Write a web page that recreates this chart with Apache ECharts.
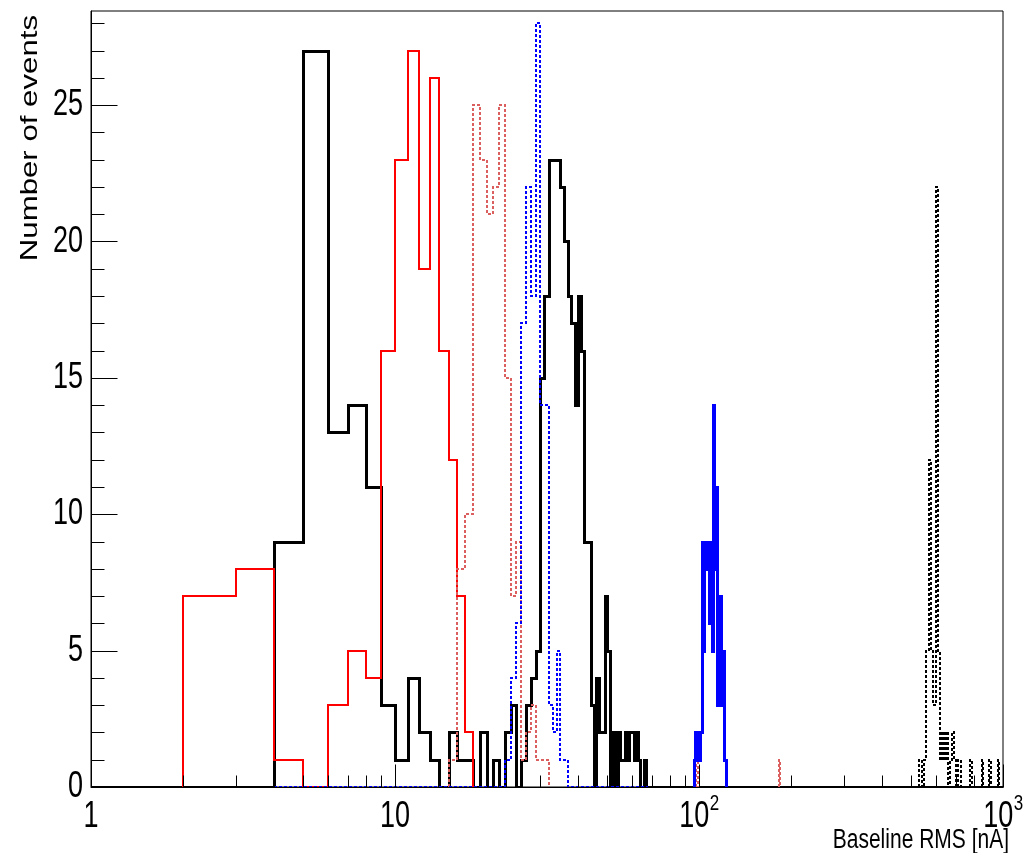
<!DOCTYPE html>
<html><head><meta charset="utf-8">
<script src="https://cdn.jsdelivr.net/npm/echarts@6/dist/echarts.min.js"></script>
<style>html,body{margin:0;padding:0;background:#fff}#c{width:1026px;height:853px}</style>
</head><body><div id="c"></div>
<script>
// ---- histogram data: bin low edges and counts (bin width given separately) ----
const blackWidth = 1;
const blackEdges = [4,5,6,7,8,9,10,11,12,13,14,15,16,17,18,19,20,21,22,23,24,25,26,27,28,29,30,31,32,33,34,35,36,37,38,39,40,41,42,43,44,45,46,47,48,49,50,51,52,53,54,55,56,57,58,59,60,61,62,63,64,65,66];
const blackCounts = [9,27,13,14,11,3,1,4,2,1,0,2,1,1,0,2,0,1,0,2,3,0,1,3,4,5,15,18,23,23,23,22,20,18,17,14,18,16,9,9,3,0,4,2,2,7,5,0,2,0,2,1,1,2,1,2,2,1,2,1,0,0,1];
const blackBaseline = [1, 1000];

const redWidth = 1;
const redEdges = [2,3,4,5,6,7,8,9,10,11,12,13,14,15,16,17];
const redCounts = [7,8,1,0,3,5,4,16,23,27,19,26,16,12,7,2];

const redDotWidth = 1;
const redDotEdges = [15,16,17,18,19,20,21,22,23,24,25,26,27,28,29,30,31,98,183];
const redDotCounts = [1,8,10,25,23,21,22,25,15,7,9,1,2,3,1,1,1,1,1];

const blueDotWidth = 1;
const blueDotEdges = [23,24,25,26,27,28,29,30,31,32,33,34,35,36];
const blueDotCounts = [1,4,6,17,22,18,28,14,14,3,2,5,1,1];
const blueDotBaseline = [4, 68];

const blueWidth = 1;
const blueEdges = [96,97,98,99,100,101,102,103,104,105,106,107,108,109,110,111,112,113,114,115,116,117,118,119,120,121,122];
const blueCounts = [1,2,1,2,1,2,9,5,9,9,8,9,6,9,5,14,11,8,11,3,7,7,5,3,5,1,1];

const blackDashWidth = 10;
const blackDashEdges = [530,540,550,560,570,580,590,600,610,620,630,640,650,660,670,680,690,700,710,720,780,850,900,960];
const blackDashCounts = [1,0,1,5,12,5,3,22,5,1,2,1,2,0,1,2,1,0,1,1,1,1,1,1];

// ---- axes ----
const xMajorTicks = [1, 10, 100, 1000];
const xMinorTicks = [2,3,4,5,6,7,8,9,20,30,40,50,60,70,80,90,200,300,400,500,600,700,800,900];
const xLabelBase = ['1', '10', '10', '10'];
const xLabelSup = ['', '', '2', '3'];
const yMajorTicks = [0, 5, 10, 15, 20, 25];
const yMinorTicks = [1,2,3,4,6,7,8,9,11,12,13,14,16,17,18,19,21,22,23,24,26,27,28];
const yLabels = ['0', '5', '10', '15', '20', '25'];
const xTitle = 'Baseline RMS [nA]';
const yTitle = 'Number of events';

const FONT = '"Liberation Sans", Arial, Helvetica, sans-serif';
const STRETCH = 1.35;
const LABEL_SIZE = 27;

// Histogram outline drawn as pixel-snapped polylines through the axis scales
function histSeries(edges, counts, width, baseline, color, lw, dash, z) {
  const data = edges.map((lo, i) => [lo, lo + width, counts[i]]);
  return {
    type: 'custom', coordinateSystem: 'cartesian2d', silent: true, animation: false, z: z, clip: true,
    data: data,
    renderItem: function (params, api) {
      if (params.dataIndexInside !== 0) return null;
      const n = params.dataInsideLength;
      const off = (lw % 2) ? 0.5 : 0;
      const P = (x, y) => { const p = api.coord([x, y]); return [Math.round(p[0]) + off, Math.round(p[1]) + off]; };
      const lines = [];
      let pts = null, prevHi = null;
      for (let k = 0; k < n; k++) {
        const lo = api.value(0, k), hi = api.value(1, k), c = api.value(2, k);
        if (pts === null || Math.abs(lo - prevHi) > 1e-9) {
          if (pts) { pts.push(P(prevHi, 0)); if (!baseline) { lines.push(pts); pts = null; } }
          if (!pts) { pts = []; if (baseline) pts.push(P(baseline[0], 0)); }
          pts.push(P(lo, 0));
        }
        pts.push(P(lo, c)); pts.push(P(hi, c));
        prevHi = hi;
      }
      pts.push(P(prevHi, 0));
      if (baseline) pts.push(P(baseline[1], 0));
      lines.push(pts);
      return {
        type: 'group',
        children: lines.map(p => ({
          type: 'polyline', shape: { points: p },
          style: { stroke: color, lineWidth: lw, lineDash: dash, fill: null, lineJoin: 'miter', lineCap: 'butt' }
        }))
      };
    }
  };
}

function tickSeries(values, axis, len) {
  return {
    type: 'custom', coordinateSystem: 'cartesian2d', silent: true, animation: false, z: 20,
    data: values.map(v => axis === 'x' ? [v, 0] : [1, v]),
    renderItem: function (params, api) {
      const p = api.coord([api.value(0), api.value(1)]);
      const x = Math.round(p[0]) + 0.5, y = Math.round(p[1]) + 0.5;
      const shape = axis === 'x' ? { x1: x, y1: y, x2: x, y2: y - len } : { x1: x - 0.5, y1: y, x2: x + len, y2: y };
      return { type: 'line', shape: shape, style: { stroke: '#000', lineWidth: 1 } };
    }
  };
}

function textEl(x, y, text, size, align, valign, sx, sy, rot) {
  return {
    type: 'text', x: x, y: y, scaleX: sx || 1, scaleY: sy || 1, rotation: rot || 0,
    style: { text: text, fontSize: size, fontFamily: FONT, fill: '#000', textFill: '#000',
      align: align, textAlign: align, verticalAlign: valign, textVerticalAlign: valign }
  };
}

const xLabelSeries = {
  type: 'custom', coordinateSystem: 'cartesian2d', silent: true, animation: false, z: 20,
  data: xMajorTicks.map(v => [v, 0]),
  renderItem: function (params, api) {
    const i = params.dataIndex;
    const p = api.coord([api.value(0), 0]);
    const base = xLabelBase[i], sup = xLabelSup[i];
    const bw = base.length * 0.556 * LABEL_SIZE;
    const supSize = Math.round(LABEL_SIZE * 0.62);
    const sw = sup.length * 0.556 * supSize;
    const left = p[0] - (bw + sw) / 2;
    const y = p[1] + 30;
    const children = [textEl(left, y, base, LABEL_SIZE, 'left', 'middle', 1, STRETCH)];
    if (sup) children.push(textEl(left + bw + 0.5, y - 13, sup, supSize, 'left', 'middle', 1, STRETCH));
    return { type: 'group', children: children };
  }
};

const yLabelSeries = {
  type: 'custom', coordinateSystem: 'cartesian2d', silent: true, animation: false, z: 20,
  data: yMajorTicks.map(v => [1, v]),
  renderItem: function (params, api) {
    const i = params.dataIndex;
    const p = api.coord([1, api.value(1)]);
    return textEl(p[0] - 8, p[1], yLabels[i], LABEL_SIZE, 'right', 'middle', 1, STRETCH);
  }
};

const series = [
  histSeries(blackEdges, blackCounts, blackWidth, blackBaseline, '#000000', 3, null, 2),
  histSeries(redEdges, redCounts, redWidth, null, '#ff0000', 2, null, 3),
  histSeries(redDotEdges, redDotCounts, redDotWidth, null, '#dc5f5f', 2, [3, 2], 4),
  histSeries(blueDotEdges, blueDotCounts, blueDotWidth, blueDotBaseline, '#0000ff', 2, [3, 2], 5),
  histSeries(blueEdges, blueCounts, blueWidth, null, '#0000ff', 3, null, 6),
  histSeries(blackDashEdges, blackDashCounts, blackDashWidth, null, '#000000', 2, [3, 2], 7),
  tickSeries(xMajorTicks, 'x', 23), tickSeries(xMinorTicks, 'x', 12),
  tickSeries(yMajorTicks, 'y', 26), tickSeries(yMinorTicks, 'y', 13),
  xLabelSeries, yLabelSeries
];

const chart = echarts.init(document.getElementById('c'), null, { renderer: 'canvas' });
chart.setOption({
  backgroundColor: '#ffffff',
  animation: false,
  grid: { left: 91, right: 23, top: 11, bottom: 66, show: true, borderColor: '#000', borderWidth: 1, backgroundColor: 'transparent' },
  xAxis: {
    type: 'log', logBase: 10, min: 1, max: 1000,
    axisLine: { show: true, lineStyle: { color: '#000', width: 1 } },
    axisTick: { show: false }, axisLabel: { show: false }, splitLine: { show: false }, minorTick: { show: false }
  },
  yAxis: {
    type: 'value', min: 0, max: 28.45, interval: 5,
    axisLine: { show: true, lineStyle: { color: '#000', width: 1 } },
    axisTick: { show: false }, axisLabel: { show: false }, splitLine: { show: false }
  },
  graphic: [
    textEl(1009, 840, xTitle, 21, 'right', 'middle', 1, STRETCH),
    textEl(30, 15, yTitle, 24, 'right', 'middle', 1.3, 1, Math.PI / 2)
  ],
  series: series
});
</script>
</body></html>
